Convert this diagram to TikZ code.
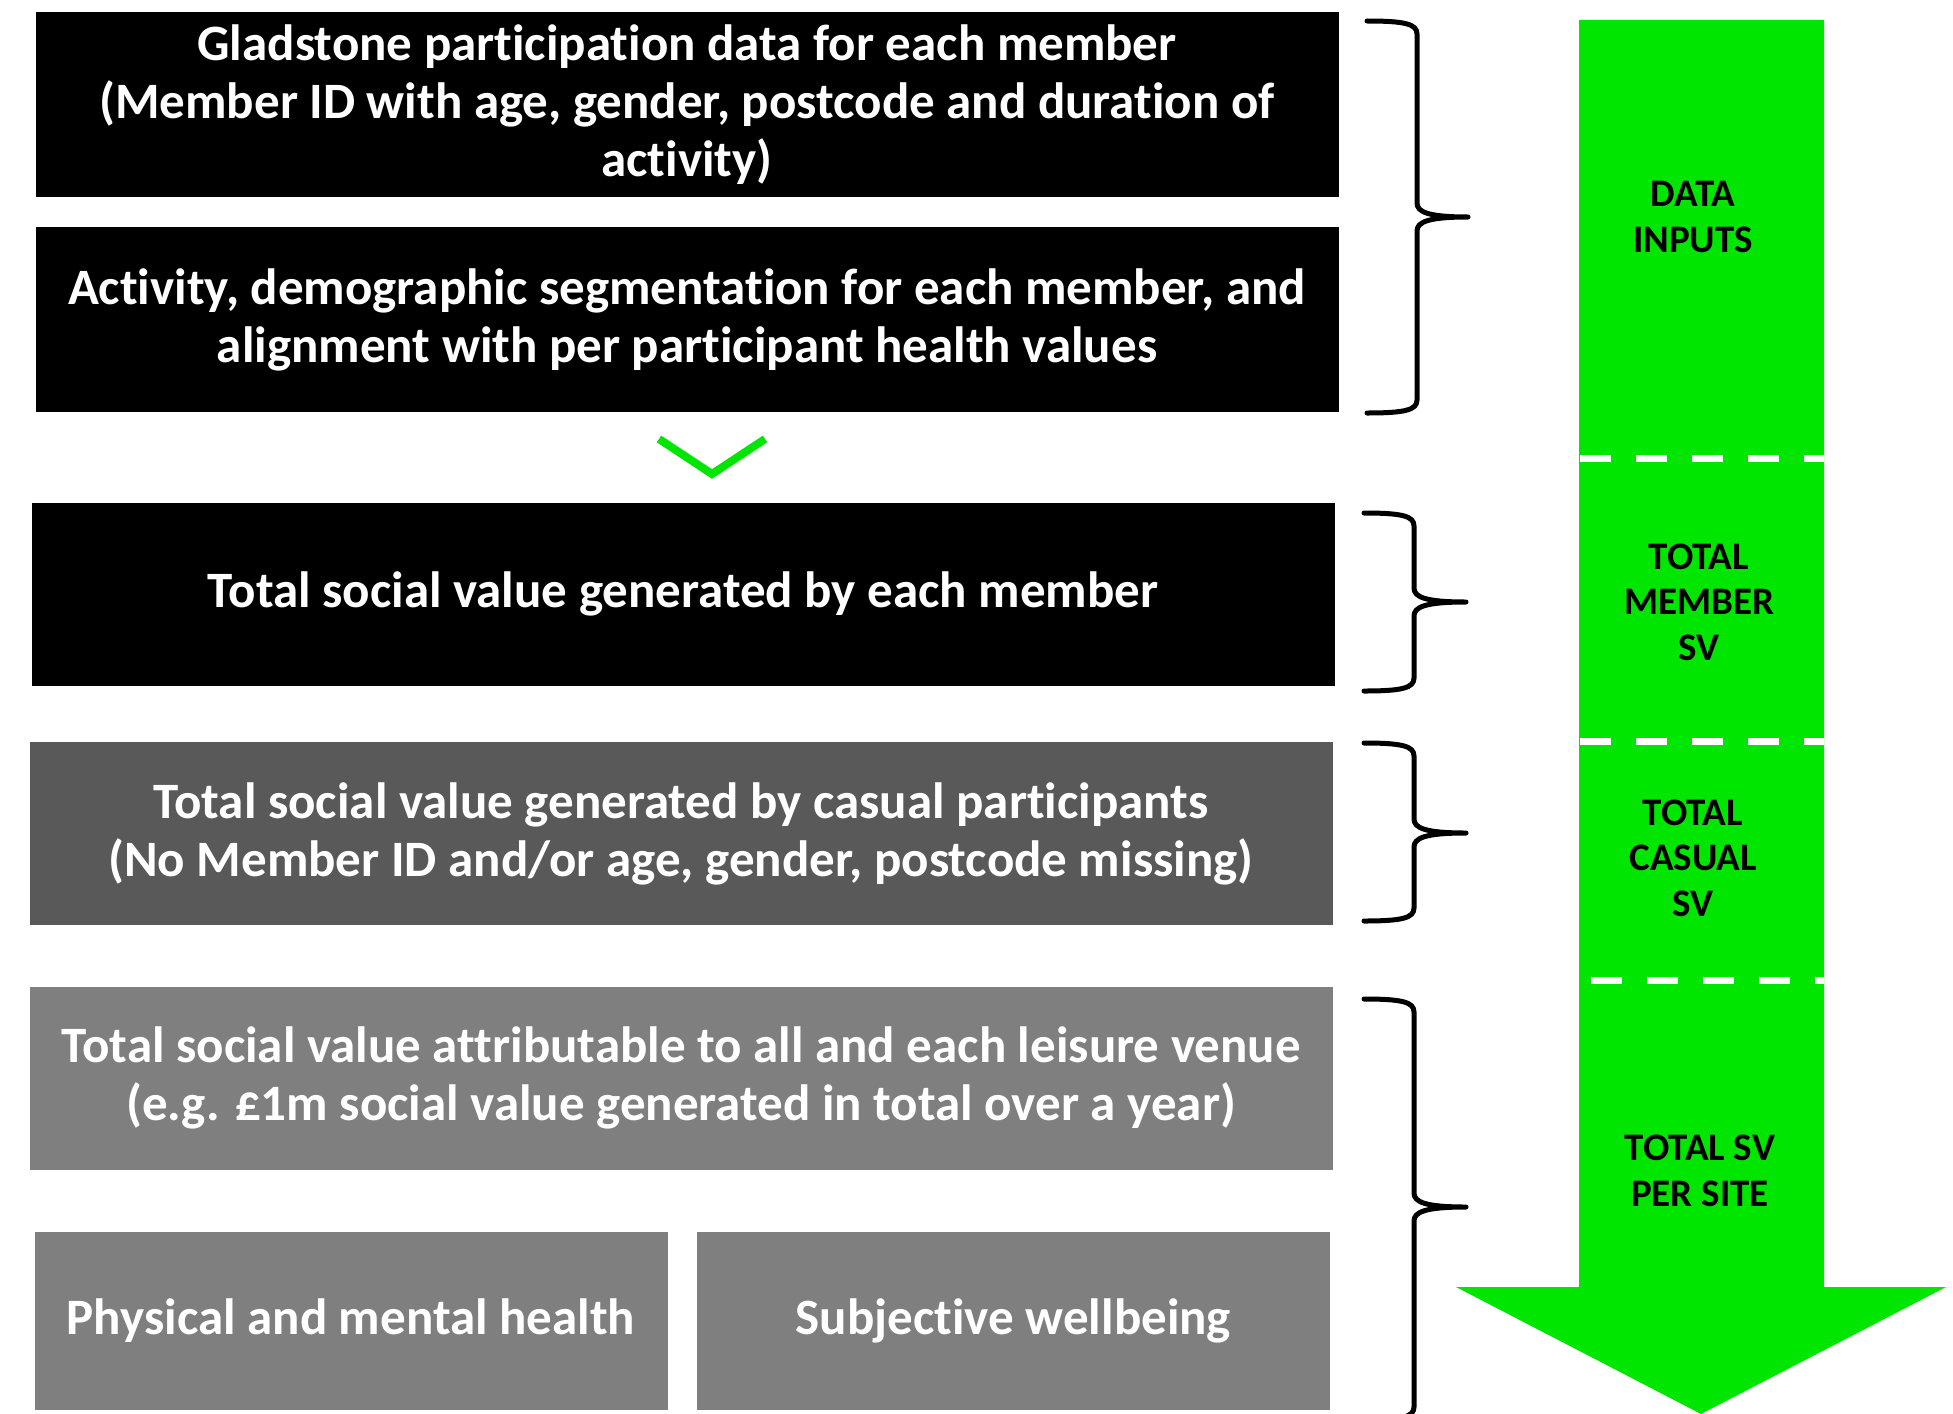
\documentclass[tikz,border=0pt]{standalone}
\usepackage{fontspec}
\setmainfont{Carlito}[Ligatures=NoCommon]
\usepackage{tikz}
\usetikzlibrary{positioning}
\definecolor{svgreen}{RGB}{0,230,0}
\definecolor{casualgrey}{RGB}{89,89,89}
\definecolor{venuegrey}{RGB}{127,127,127}

\begin{document}
\begin{tikzpicture}[x=1pt, y=-1pt,
    box/.style={inner sep=0pt, text=white, align=center,
        font=\fontsize{51}{58}\selectfont\bfseries,
        minimum width=1303pt, minimum height=185pt},
    stage/.style={align=center, inner sep=0pt, font=\fontsize{39}{45.5}\selectfont\bfseries},
    curly/.style={line width=5pt, line cap=round, line join=round},
    splitline/.style={white, line width=7pt, dash pattern=on 31pt off 25pt}]
    \useasboundingbox (0,0) rectangle (1953,1413);

    % green arrow behind the stages
    \fill[svgreen] (1579,20) -- (1824,20) -- (1824,1287) -- (1946,1287) -- (1701,1414) -- (1456,1287) -- (1579,1287) -- cycle;
    \draw[splitline] (1580,458) -- (1824,458);
    \draw[splitline] (1580,741) -- (1824,741);
    \draw[splitline] (1591,980) -- (1824,980);

    \node(Data)[box, fill=black] at (687,104.5) {Gladstone participation data for each member\\(Member ID with age, gender, postcode and duration of\\activity)};
    \node(Seg)[box, fill=black, below=30pt of Data] {Activity, demographic segmentation for each member, and\\alignment with per participant health values};
    \node(Mem)[box, fill=black, minimum height=183pt, below=90pt of Seg, xshift=-4pt] {Total social value generated by each member};
    \node(Cas)[box, fill=casualgrey, minimum height=183pt, below=56pt of Mem, xshift=-2pt] {Total social value generated by casual participants\\(No Member ID and/or age, gender, postcode missing)};
    \node(Venue)[box, fill=venuegrey, minimum height=183pt, below=61pt of Cas] {Total social value attributable to all and each leisure venue\\(e.g. £1m social value generated in total over a year)};
    \node(Health)[box, fill=venuegrey, minimum width=633pt, minimum height=178pt, below=62pt of Venue.south west, anchor=north west, xshift=5pt] {Physical and mental health};
    \node(Well)[box, fill=venuegrey, minimum width=633pt, minimum height=178pt, right=29pt of Health] {Subjective wellbeing};

    \draw[svgreen, line width=8pt] (659,439) -- (712,474) -- (765,439);

    \node(Inputs)[stage] at (1693,217) {DATA\\INPUTS};
    \node(MemSV)[stage] at (1699,602) {TOTAL\\MEMBER\\SV};
    \node(CasSV)[stage] at (1693,858) {TOTAL\\CASUAL\\SV};
    \node(SiteSV)[stage] at (1700,1171) {TOTAL SV\\PER SITE};

    \draw[curly] (1367,21) .. controls (1405,21) and (1417,24) .. (1417,34) -- (1417,203) .. controls (1417,212) and (1428,217) .. (1468,217) .. controls (1428,217) and (1417,222) .. (1417,231) -- (1417,400) .. controls (1417,410) and (1405,413) .. (1367,413);
    \draw[curly] (1364,513) .. controls (1402,513) and (1414,516) .. (1414,526) -- (1414,588) .. controls (1414,597) and (1425,602) .. (1466,602) .. controls (1425,602) and (1414,607) .. (1414,616) -- (1414,678) .. controls (1414,688) and (1402,691) .. (1364,691);
    \draw[curly] (1364,743) .. controls (1402,743) and (1414,746) .. (1414,756) -- (1414,819) .. controls (1414,828) and (1425,833) .. (1466,833) .. controls (1425,833) and (1414,838) .. (1414,847) -- (1414,908) .. controls (1414,918) and (1402,921) .. (1364,921);
    \draw[curly] (1364,999) .. controls (1402,999) and (1414,1002) .. (1414,1012) -- (1414,1193) .. controls (1414,1202) and (1425,1207) .. (1466,1207) .. controls (1425,1207) and (1414,1212) .. (1414,1221) -- (1414,1407) .. controls (1414,1417) and (1402,1420) .. (1364,1420);
\end{tikzpicture}
\end{document}
